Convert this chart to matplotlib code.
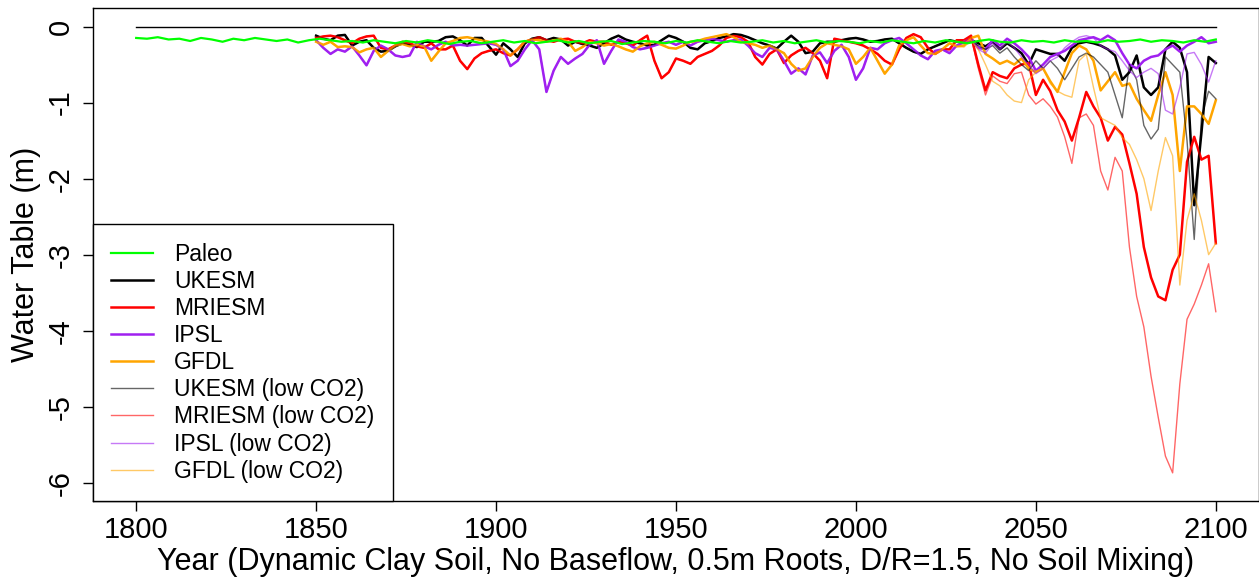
import numpy as np
import matplotlib.pyplot as plt

plt.rcParams['font.family'] = ['Liberation Sans', 'DejaVu Sans']
plt.rcParams['axes.unicode_minus'] = False

# years
paleo_years = np.arange(1800, 2101, 3)
hist_years = np.arange(1850, 2029, 2)
future_years = np.arange(2030, 2101, 2)

paleo = [-0.15, -0.16, -0.14, -0.17, -0.16, -0.19, -0.15, -0.17, -0.20, -0.16,
         -0.18, -0.15, -0.17, -0.19, -0.17, -0.21, -0.18, -0.16, -0.18, -0.20,
         -0.19, -0.21, -0.18, -0.20, -0.22, -0.19, -0.21, -0.18, -0.20, -0.23,
         -0.20, -0.19, -0.22, -0.20, -0.18, -0.21, -0.19, -0.22, -0.20, -0.18,
         -0.21, -0.19, -0.22, -0.20, -0.19, -0.23, -0.21, -0.19, -0.20, -0.22,
         -0.19, -0.21, -0.18, -0.20, -0.22, -0.19, -0.21, -0.20, -0.18, -0.21,
         -0.19, -0.22, -0.20, -0.18, -0.21, -0.19, -0.20, -0.22, -0.19, -0.21,
         -0.18, -0.20, -0.22, -0.19, -0.21, -0.18, -0.20, -0.22, -0.19, -0.17,
         -0.20, -0.21, -0.18, -0.20, -0.19, -0.21, -0.18, -0.20, -0.19, -0.21,
         -0.18, -0.20, -0.19, -0.17, -0.20, -0.18, -0.19, -0.21, -0.18, -0.20,
         -0.17]

# 1850-2028 (historical, shared by both CO2 runs)
ukesm_hist = [-0.12, -0.16, -0.18, -0.12, -0.11, -0.25, -0.20, -0.18, -0.28, -0.33,
              -0.32, -0.26, -0.22, -0.24, -0.27, -0.20, -0.20, -0.19, -0.14, -0.13,
              -0.18, -0.25, -0.15, -0.15, -0.26, -0.37, -0.22, -0.30, -0.40, -0.22,
              -0.16, -0.14, -0.18, -0.15, -0.17, -0.25, -0.20, -0.23, -0.25, -0.28,
              -0.22, -0.16, -0.12, -0.17, -0.20, -0.22, -0.25, -0.24, -0.18, -0.12,
              -0.15, -0.20, -0.28, -0.30, -0.22, -0.19, -0.15, -0.13, -0.10, -0.11,
              -0.14, -0.18, -0.22, -0.25, -0.29, -0.20, -0.12, -0.20, -0.35, -0.33,
              -0.22, -0.20, -0.20, -0.18, -0.16, -0.15, -0.17, -0.20, -0.19, -0.17,
              -0.16, -0.22, -0.28, -0.33, -0.36, -0.30, -0.26, -0.22, -0.18, -0.20]
mriesm_hist = [-0.15, -0.13, -0.12, -0.14, -0.18, -0.22, -0.16, -0.13, -0.12, -0.28,
               -0.30, -0.25, -0.20, -0.22, -0.26, -0.28, -0.22, -0.30, -0.30, -0.25,
               -0.45, -0.56, -0.42, -0.35, -0.32, -0.30, -0.35, -0.38, -0.30, -0.20,
               -0.17, -0.14, -0.18, -0.20, -0.17, -0.16, -0.20, -0.22, -0.18, -0.20,
               -0.20, -0.24, -0.20, -0.22, -0.25, -0.18, -0.12, -0.45, -0.68, -0.60,
               -0.42, -0.45, -0.49, -0.40, -0.36, -0.32, -0.25, -0.15, -0.12, -0.14,
               -0.20, -0.40, -0.50, -0.36, -0.30, -0.48, -0.38, -0.32, -0.28, -0.35,
               -0.45, -0.68, -0.16, -0.18, -0.20, -0.22, -0.25, -0.30, -0.36, -0.45,
               -0.50, -0.30, -0.15, -0.10, -0.14, -0.28, -0.36, -0.30, -0.30, -0.18]
ipsl_hist = [-0.18, -0.28, -0.36, -0.30, -0.33, -0.26, -0.38, -0.51, -0.32, -0.25,
             -0.30, -0.38, -0.40, -0.38, -0.20, -0.26, -0.30, -0.24, -0.20, -0.25,
             -0.24, -0.25, -0.24, -0.23, -0.22, -0.24, -0.30, -0.52, -0.45, -0.30,
             -0.18, -0.30, -0.86, -0.58, -0.40, -0.49, -0.42, -0.36, -0.24, -0.18,
             -0.49, -0.32, -0.17, -0.20, -0.27, -0.30, -0.28, -0.25, -0.22, -0.20,
             -0.24, -0.20, -0.25, -0.20, -0.18, -0.16, -0.18, -0.20, -0.18, -0.17,
             -0.25, -0.35, -0.40, -0.28, -0.30, -0.45, -0.62, -0.55, -0.63, -0.38,
             -0.34, -0.48, -0.32, -0.24, -0.40, -0.70, -0.55, -0.28, -0.30, -0.22,
             -0.18, -0.15, -0.22, -0.30, -0.38, -0.43, -0.32, -0.30, -0.35, -0.25]
gfdl_hist = [-0.20, -0.24, -0.20, -0.27, -0.26, -0.27, -0.34, -0.30, -0.28, -0.40,
             -0.32, -0.25, -0.23, -0.26, -0.24, -0.26, -0.45, -0.33, -0.22, -0.19,
             -0.15, -0.14, -0.16, -0.18, -0.20, -0.23, -0.30, -0.38, -0.30, -0.20,
             -0.17, -0.18, -0.20, -0.18, -0.16, -0.20, -0.32, -0.27, -0.20, -0.22,
             -0.25, -0.23, -0.26, -0.30, -0.33, -0.26, -0.22, -0.20, -0.24, -0.28,
             -0.29, -0.25, -0.20, -0.19, -0.16, -0.14, -0.12, -0.10, -0.14, -0.20,
             -0.22, -0.24, -0.28, -0.25, -0.30, -0.35, -0.49, -0.58, -0.55, -0.40,
             -0.28, -0.22, -0.24, -0.26, -0.30, -0.49, -0.40, -0.28, -0.45, -0.62,
             -0.50, -0.25, -0.18, -0.14, -0.25, -0.35, -0.36, -0.30, -0.22, -0.26]

# 2030-2100 projections
ukesm_fut = [-0.20, -0.18, -0.22, -0.26, -0.20, -0.30, -0.22, -0.28, -0.35, -0.50,
             -0.30, -0.33, -0.36, -0.36, -0.45, -0.28, -0.22, -0.20, -0.22, -0.25,
             -0.30, -0.38, -0.70, -0.60, -0.38, -0.80, -0.90, -0.80, -0.30, -0.20,
             -0.28, -0.60, -2.35, -1.40, -0.40, -0.48]
ukesm_low = [-0.22, -0.20, -0.25, -0.30, -0.25, -0.35, -0.28, -0.40, -0.50, -0.58,
             -0.45, -0.55, -0.45, -0.55, -0.70, -0.55, -0.40, -0.35, -0.40, -0.50,
             -0.60, -0.90, -1.20, -0.50, -0.70, -1.30, -1.48, -1.35, -0.40, -0.50,
             -0.60, -1.50, -2.80, -1.20, -0.85, -0.95]
mriesm_fut = [-0.18, -0.12, -0.50, -0.84, -0.60, -0.65, -0.68, -0.55, -0.50, -0.48,
              -0.90, -0.70, -0.85, -1.10, -1.25, -1.50, -1.20, -0.86, -1.05, -1.20,
              -1.50, -1.32, -1.42, -1.80, -2.20, -2.90, -3.30, -3.55, -3.60, -3.20,
              -3.00, -1.78, -1.45, -1.75, -1.70, -2.85]
mriesm_low = [-0.20, -0.14, -0.55, -0.90, -0.65, -0.72, -0.75, -0.62, -0.60, -0.90,
              -1.02, -0.95, -1.05, -1.19, -1.45, -1.80, -1.20, -1.15, -1.30, -1.90,
              -2.15, -1.72, -1.90, -2.90, -3.55, -3.95, -4.60, -5.14, -5.65, -5.87,
              -4.70, -3.85, -3.65, -3.40, -3.12, -3.75]
ipsl_fut = [-0.20, -0.16, -0.28, -0.30, -0.18, -0.25, -0.16, -0.22, -0.30, -0.40,
            -0.58, -0.50, -0.40, -0.36, -0.32, -0.25, -0.18, -0.16, -0.14, -0.18,
            -0.12, -0.18, -0.35, -0.50, -0.55, -0.45, -0.40, -0.38, -0.30, -0.25,
            -0.33, -0.25, -0.20, -0.14, -0.22, -0.20]
ipsl_low = [-0.22, -0.18, -0.30, -0.35, -0.22, -0.30, -0.20, -0.28, -0.40, -0.50,
            -0.62, -0.55, -0.45, -0.40, -0.28, -0.20, -0.14, -0.12, -0.15, -0.25,
            -0.30, -0.33, -0.45, -0.58, -0.67, -0.60, -0.55, -0.62, -1.10, -1.15,
            -0.80, -0.36, -0.34, -0.50, -0.73, -0.45]
gfdl_fut = [-0.25, -0.15, -0.12, -0.36, -0.42, -0.49, -0.45, -0.50, -0.42, -0.55,
            -0.60, -0.55, -0.72, -0.86, -0.60, -0.35, -0.25, -0.30, -0.45, -0.84,
            -0.72, -0.60, -0.78, -0.75, -0.95, -1.10, -1.24, -0.90, -0.60, -0.90,
            -1.90, -1.05, -1.05, -1.15, -1.28, -0.97]
gfdl_low = [-0.27, -0.18, -0.30, -0.50, -0.72, -0.78, -0.90, -0.98, -1.00, -0.70,
            -0.60, -0.55, -0.75, -0.85, -0.90, -0.93, -0.45, -0.36, -0.80, -1.20,
            -1.25, -1.30, -1.46, -1.55, -1.75, -2.00, -2.42, -1.90, -1.46, -1.70,
            -3.40, -2.55, -2.20, -2.55, -3.00, -2.85]

models = ['UKESM', 'MRIESM', 'IPSL', 'GFDL']
colors = ['black', '#FF0000', '#A020F0', '#FFA500']
hist = [ukesm_hist, mriesm_hist, ipsl_hist, gfdl_hist]
fut = [ukesm_fut, mriesm_fut, ipsl_fut, gfdl_fut]
low = [ukesm_low, mriesm_low, ipsl_low, gfdl_low]

years = np.concatenate([hist_years, future_years])

fig = plt.figure(figsize=(12.59, 5.80), dpi=100)
ax = fig.add_axes([93 / 1259, 79 / 580, 1166 / 1259, 492.7 / 580])

ax.plot([1800, 2100], [0, 0], color='black', lw=1.0)

main_handles = []
low_handles = []
for name, c, h, f in zip(models, colors, hist, fut):
    ln, = ax.plot(years, np.concatenate([h, f]), color=c, lw=1.8, label=name)
    main_handles.append(ln)
for name, c, h, l in zip(models, colors, hist, low):
    ln, = ax.plot(years, np.concatenate([h, l]), color=c, lw=1.0, alpha=0.6,
                  label=name + ' (low CO2)')
    low_handles.append(ln)

pal, = ax.plot(paleo_years, paleo, color='#00FF00', lw=1.6, label='Paleo', zorder=5)

ax.set_xlim(1788, 2112)
ax.set_ylim(-6.24, 0.24)
ax.set_xticks(range(1800, 2101, 50))
ax.set_yticks(range(-6, 1))
ax.tick_params(length=7, width=1, labelsize=21, direction='out')
ax.tick_params(axis='x', pad=4)
ax.tick_params(axis='y', labelrotation=90, pad=6)
for lab in ax.get_yticklabels():
    lab.set_va('center')
for s in ax.spines.values():
    s.set_linewidth(1)

ax.set_xlabel('Year (Dynamic Clay Soil, No Baseflow, 0.5m Roots, D/R=1.5, No Soil Mixing)',
              fontsize=22, labelpad=2)
ax.set_ylabel('Water Table (m)', fontsize=22, labelpad=4)

leg = ax.legend(handles=[pal] + main_handles + low_handles, loc='lower left',
                bbox_to_anchor=(0, 0), borderaxespad=0, fontsize=16.5,
                fancybox=False, framealpha=1, edgecolor='black',
                handlelength=1.8, handletextpad=0.95, borderpad=0.8,
                labelspacing=0.18)
leg.get_frame().set_linewidth(1)

fig.savefig('out.png', dpi=100)
